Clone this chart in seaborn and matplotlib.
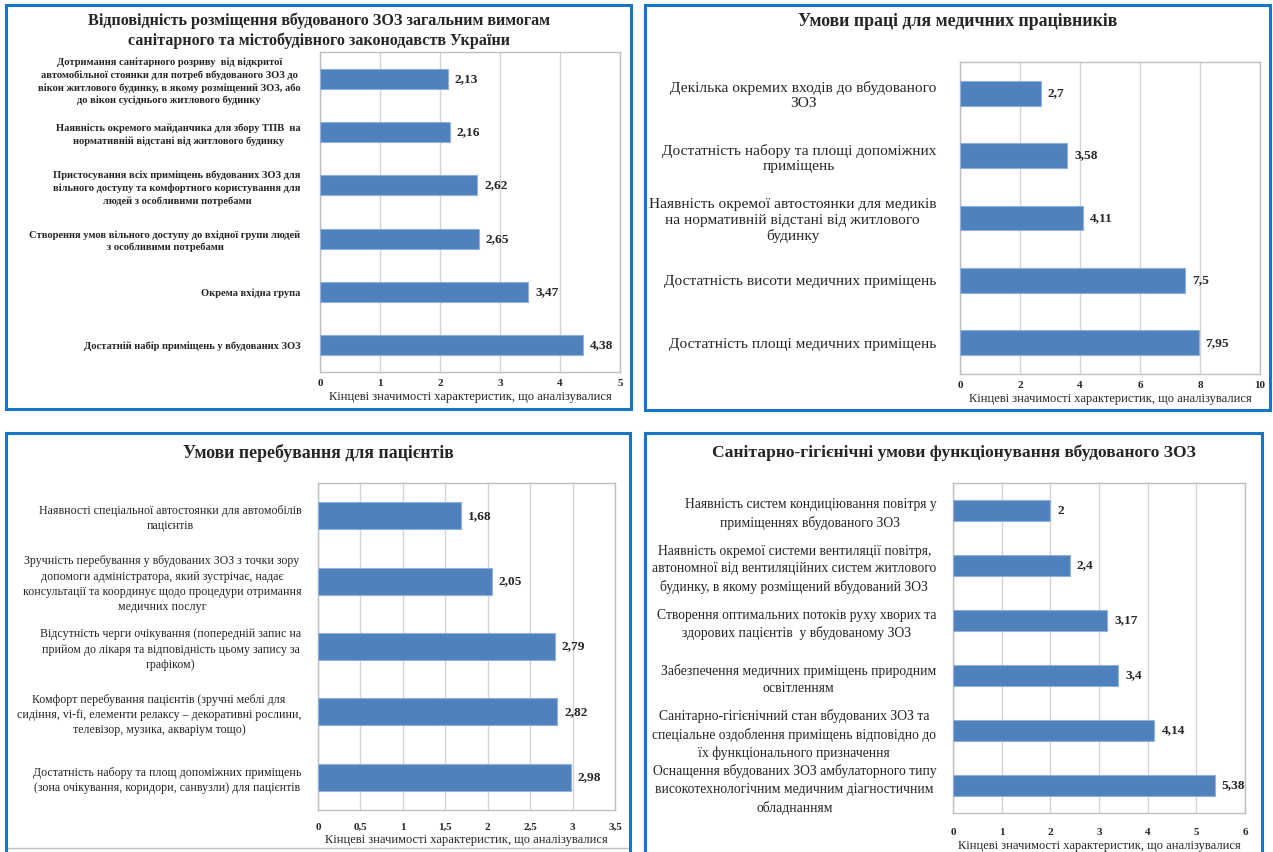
import matplotlib
matplotlib.use("Agg")
import matplotlib.pyplot as plt
from matplotlib.patches import Rectangle
import seaborn as sns

sns.set_theme(style="white")
plt.rcParams["font.family"] = ["Liberation Serif", "DejaVu Serif"]

W, H = 1273, 852

# --- data -------------------------------------------------------------
title_1 = "Відповідність розміщення вбудованого ЗОЗ загальним вимогам\nсанітарного та містобудівного законодавств України"
labels_1 = [
    "Дотримання санітарного розриву  від відкритої\nавтомобільної стоянки для потреб вбудованого ЗОЗ до\nвікон житлового будинку, в якому розміщений ЗОЗ, або\nдо вікон сусіднього житлового будинку",
    "Наявність окремого майданчика для збору ТПВ  на\nнормативній відстані від житлового будинку",
    "Пристосування всіх приміщень вбудованих ЗОЗ для\nвільного доступу та комфортного користування для\nлюдей з особливими потребами",
    "Створення умов вільного доступу до вхідної групи людей\nз особливими потребами",
    "Окрема вхідна група",
    "Достатній набір приміщень у вбудованих ЗОЗ",
]
values_1 = [2.13, 2.16, 2.62, 2.65, 3.47, 4.38]
ticks_1 = [0, 1, 2, 3, 4, 5]

title_2 = "Умови праці для медичних працівників"
labels_2 = [
    "Декілька окремих входів до вбудованого\nЗОЗ",
    "Достатність набору та площі допоміжних\nприміщень",
    "Наявність окремої автостоянки для медиків\nна нормативній відстані від житлового\nбудинку",
    "Достатність висоти медичних приміщень",
    "Достатність площі медичних приміщень",
]
values_2 = [2.7, 3.58, 4.11, 7.5, 7.95]
ticks_2 = [0, 2, 4, 6, 8, 10]

title_3 = "Умови перебування для пацієнтів"
labels_3 = [
    "Наявності спеціальної автостоянки для автомобілів\nпацієнтів",
    "Зручність перебування у вбудованих ЗОЗ з точки зору\nдопомоги адміністратора, який зустрічає, надає\nконсультації та координує щодо процедури отримання\nмедичних послуг",
    "Відсутність черги очікування (попередній запис на\nприйом до лікаря та відповідність цьому запису за\nграфіком)",
    "Комфорт перебування пацієнтів (зручні меблі для\nсидіння, vi-fi, елементи релаксу – декоративні рослини,\nтелевізор, музика, акваріум тощо)",
    "Достатність набору та площ допоміжних приміщень\n(зона очікування, коридори, санвузли) для пацієнтів",
]
values_3 = [1.68, 2.05, 2.79, 2.82, 2.98]
ticks_3 = [0, 0.5, 1, 1.5, 2, 2.5, 3, 3.5]

title_4 = "Санітарно-гігієнічні умови функціонування вбудованого ЗОЗ"
labels_4 = [
    "Наявність систем кондиціювання повітря у\nприміщеннях вбудованого ЗОЗ",
    "Наявність окремої системи вентиляції повітря,\nавтономної від вентиляційних систем житлового\nбудинку, в якому розміщений вбудований ЗОЗ",
    "Створення оптимальних потоків руху хворих та\nздорових пацієнтів  у вбудованому ЗОЗ",
    "Забезпечення медичних приміщень природним\nосвітленням",
    "Санітарно-гігієнічний стан вбудованих ЗОЗ та\nспеціальне оздоблення приміщень відповідно до\nїх функціонального призначення",
    "Оснащення вбудованих ЗОЗ амбулаторного типу\nвисокотехнологічним медичним діагностичним\nобладнанням",
]
values_4 = [2, 2.4, 3.17, 3.4, 4.14, 5.38]
ticks_4 = [0, 1, 2, 3, 4, 5, 6]

x_label = "Кінцеві значимості характеристик, що аналізувалися"

# --- styling ----------------------------------------------------------
BAR = "#4F81BD"
BAR_EDGE = "#8EB0DA"
FRAME = "#1874C4"
GRID = "#D4D4D4"


def fx(px):
    return px / W


def fy(py):
    return 1 - py / H


def comma(v):
    return f"{v:g}".replace(".", ",")


fig = plt.figure(figsize=(W / 100, H / 100), dpi=100)

panels = [
    dict(title=title_1, labels=labels_1, values=values_1, ticks=ticks_1,
         frame=(6, 5, 631, 409), axes=(320, 52, 620, 372), title_y=31,
         title_size=11.6, label_size=7.6, label_weight="bold", bar_w=0.38,
         pad=14, tick_pad=5, spacing=1.43),
    dict(title=title_2, labels=labels_2, values=values_2, ticks=ticks_2,
         frame=(645, 5, 1270, 410), axes=(960, 62, 1260, 374), title_y=22,
         title_size=12.8, label_size=11.1, label_weight="normal", bar_w=0.40,
         pad=17, tick_pad=5, spacing=1.22),
    dict(title=title_3, labels=labels_3, values=values_3, ticks=ticks_3,
         frame=(6, 433, 630, 860), axes=(318, 483, 615, 810), title_y=453,
         title_size=12.8, label_size=8.6, label_weight="normal", bar_w=0.41,
         pad=12, tick_pad=9, spacing=1.36),
    dict(title=title_4, labels=labels_4, values=values_4, ticks=ticks_4,
         frame=(645, 433, 1262, 860), axes=(953, 483, 1245, 813), title_y=453,
         title_size=12.6, label_size=9.8, label_weight="normal", bar_w=0.39,
         pad=12, tick_pad=11, spacing=1.45),
]

for p in panels:
    l, t, r, b = p["frame"]
    fig.patches.append(Rectangle((fx(l), fy(b)), fx(r - l), (b - t) / H,
                                 transform=fig.transFigure, fill=False,
                                 edgecolor=FRAME, linewidth=2.2, zorder=10))
    fig.text(fx((l + r) / 2), fy(p["title_y"]), p["title"], ha="center",
             va="center", fontsize=p["title_size"], fontweight="bold",
             linespacing=1.3)

    al, at, ar, ab = p["axes"]
    ax = fig.add_axes([fx(al), fy(ab), fx(ar - al), (ab - at) / H])
    sns.barplot(x=p["values"], y=p["labels"], orient="h", color=BAR,
                width=p["bar_w"], saturation=1, edgecolor=BAR_EDGE,
                linewidth=0.8, ax=ax, zorder=3)
    ax.set_xlim(p["ticks"][0], p["ticks"][-1])
    ax.set_xticks(p["ticks"])
    ax.set_xticklabels([comma(v) for v in p["ticks"]], fontsize=8,
                       fontweight="bold")
    ax.set_yticks(range(len(p["labels"])))
    ax.set_yticklabels(p["labels"], fontsize=p["label_size"],
                       fontweight=p["label_weight"], multialignment="center",
                       linespacing=p["spacing"])
    ax.tick_params(axis="both", length=0)
    ax.tick_params(axis="x", pad=p["tick_pad"])
    ax.tick_params(axis="y", pad=p["pad"])
    ax.grid(axis="x", color=GRID, linewidth=1.0, zorder=0)
    ax.grid(axis="y", visible=False)
    for s in ax.spines.values():
        s.set_color("#BFBFBF")
        s.set_linewidth(1.0)
    ax.set_ylabel("")
    ax.set_xlabel(x_label, fontsize=9, labelpad=2)
    ax.bar_label(ax.containers[0], labels=[comma(v) for v in p["values"]],
                 padding=5, fontsize=9.6, fontweight="bold")

# thin rule along the bottom of the lower-left panel
fig.add_artist(plt.Line2D([fx(8), fx(628)], [fy(848), fy(848)],
                          transform=fig.transFigure, color="#BFBFBF",
                          linewidth=1.0))

fig.savefig("out.png", dpi=100)
